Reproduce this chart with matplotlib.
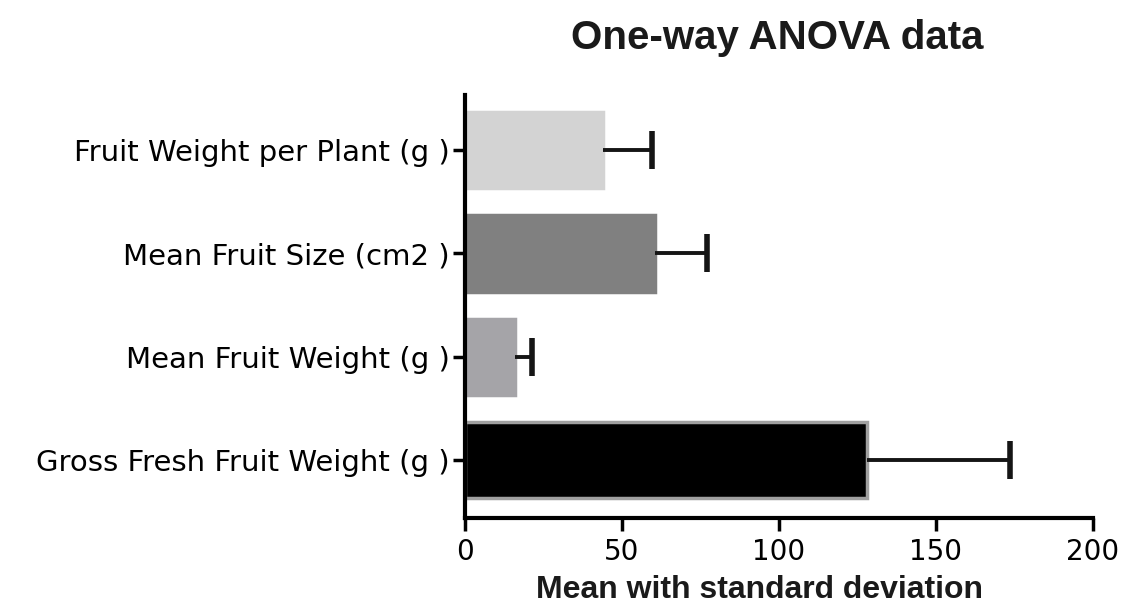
import matplotlib
matplotlib.use("Agg")
import matplotlib.pyplot as plt
import numpy as np

# ---------------------------------------------------
# DATA (bottom to top, as drawn)
# ---------------------------------------------------

categories = [
    "Gross Fresh Fruit Weight (g )",
    "Mean Fruit Weight (g )",
    "Mean Fruit Size (cm2 )",
    "Fruit Weight per Plant (g )",
]
means = [128.0, 16.0, 60.5, 44.0]
sds = [45.5, 5.5, 16.5, 15.5]

bar_colors = ["#000000", "#a5a4a8", "#808080", "#d3d3d3"]
edge_colors = ["#a0a0a0", "#a5a4a8", "#808080", "#d3d3d3"]

xticks = [0, 50, 100, 150, 200]

# ---------------------------------------------------
# PLOT
# ---------------------------------------------------

plt.rcParams["font.family"] = ["DejaVu Sans"]

fig = plt.figure(figsize=(11.23, 6.06), dpi=100)
ax = fig.add_axes([0.414, 0.145, 0.559, 0.698])

ypos = np.arange(len(categories))
upper = np.array(means) + np.array(sds)

ax.barh(ypos, means, height=0.74, color=bar_colors,
        edgecolor=edge_colors, linewidth=2.5, zorder=2)

# one-sided error bars: line from the mean out to mean + SD, cap at the end only
ax.hlines(ypos, means, upper, color="#151515", linewidth=2.8, zorder=3)
ax.plot(upper, ypos, linestyle="none", marker="|", markersize=27,
        markeredgewidth=4, color="#151515", zorder=3)

ax.set_xlim(0, 200)
ax.set_ylim(-0.56, 3.53)
ax.set_xticks(xticks)
ax.set_xticklabels([str(t) for t in xticks])
ax.set_yticks(ypos)
ax.set_yticklabels(categories)

for side in ["top", "right"]:
    ax.spines[side].set_visible(False)
for side in ["left", "bottom"]:
    ax.spines[side].set_linewidth(3)

ax.tick_params(axis="both", width=2.5, length=9, labelsize=20, pad=2,
               colors="black")
ax.tick_params(axis="y", labelsize=21)
ax.tick_params(axis="x", pad=5)

ax.set_xlabel("Mean with standard deviation", fontsize=23,
              fontweight="bold", color="#1a1a1a", family="Liberation Sans")
ax.xaxis.set_label_coords(0.47, -0.135)
fig.text(0.692, 0.938, "One-way ANOVA data", ha="center", va="center",
         fontsize=29, fontweight="bold", color="#1a1a1a",
         family="Liberation Sans")

fig.savefig("out.png", dpi=100)
plt.close(fig)
